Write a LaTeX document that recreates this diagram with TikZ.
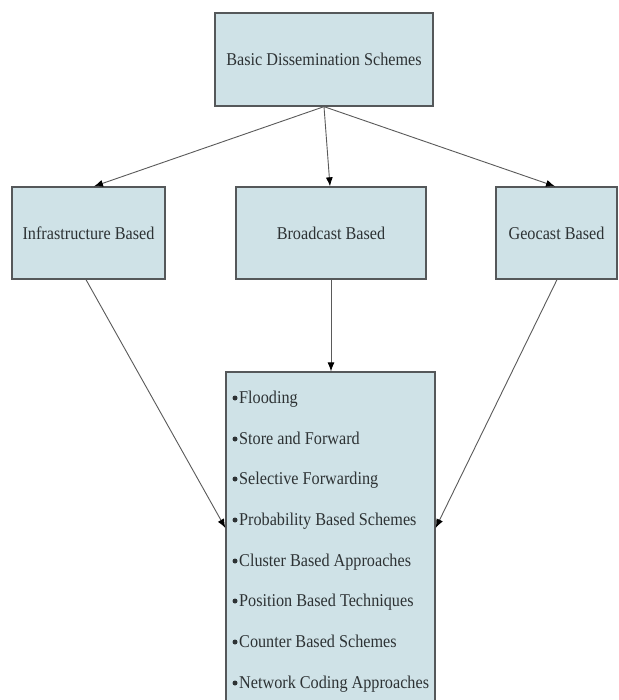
\documentclass[tikz,border=0pt]{standalone}
\usepackage{fontspec}
\setmainfont{Liberation Serif}[FakeStretch=0.9]
\usetikzlibrary{arrows.meta}
\definecolor{boxfill}{RGB}{207,226,231}
\definecolor{boxedge}{RGB}{85,88,90}
\definecolor{linec}{RGB}{90,90,90}
\definecolor{txtc}{RGB}{45,50,52}
\tikzset{
  box/.style={draw=boxedge, line width=1.3pt, fill=boxfill, rectangle, inner sep=0pt,
    font=\fontsize{18}{20}\selectfont, text=txtc},
  item/.style={anchor=base west, inner sep=0pt, font=\fontsize{18}{20}\selectfont, text=txtc},
  dot/.style={fill=txtc},
  conn/.style={draw=linec, line width=0.9pt, -{Latex[length=9pt,width=7pt,fill=black,color=black]}}
}
\begin{document}
\begin{tikzpicture}[x=1pt,y=-1pt]
\useasboundingbox (0,0) rectangle (618,700);
\fill[white] (0,0) rectangle (618,700);
\node[box, minimum width=218pt, minimum height=93pt] (top) at (324,59.5) {Basic Dissemination Schemes};
\node[box, minimum width=153pt, minimum height=92pt] (infra) at (88.5,233) {Infrastructure Based};
\node[box, minimum width=190pt, minimum height=92pt] (bc) at (331,233) {Broadcast Based};
\node[box, minimum width=121pt, minimum height=92pt] (geo) at (556.5,233) {Geocast Based};
\node[box, minimum width=209pt, minimum height=332pt] (bot) at (330.5,538) {};
\node[item] (i1) at (239,403) {Flooding};
\node[item] (i2) at (239,444) {Store and Forward};
\node[item] (i3) at (239,484) {Selective Forwarding};
\node[item] (i4) at (239,525) {Probability Based Schemes};
\node[item] (i5) at (239,566) {Cluster Based Approaches};
\node[item] (i6) at (239,606) {Position Based Techniques};
\node[item] (i7) at (239,647) {Counter Based Schemes};
\node[item] (i8) at (239,688) {Network Coding Approaches};
\foreach \i in {1,...,8}{
  \fill[dot] ([xshift=-4pt,yshift=5pt]i\i.base west) circle (2.5pt);
}
\draw[conn] (top.south) -- ([xshift=5.5pt]infra.north);
\draw[conn] (top.south) -- ([xshift=-1pt]bc.north);
\draw[conn] (top.south) -- ([xshift=-1.5pt]geo.north);
\draw[conn] ([xshift=-2.5pt]infra.south) -- ([yshift=10pt]bot.west);
\draw[conn] (bc.south) -- (bot.north -| bc.south);
\draw[conn] ([xshift=0.5pt]geo.south) -- ([yshift=10pt]bot.east);
\end{tikzpicture}
\end{document}
